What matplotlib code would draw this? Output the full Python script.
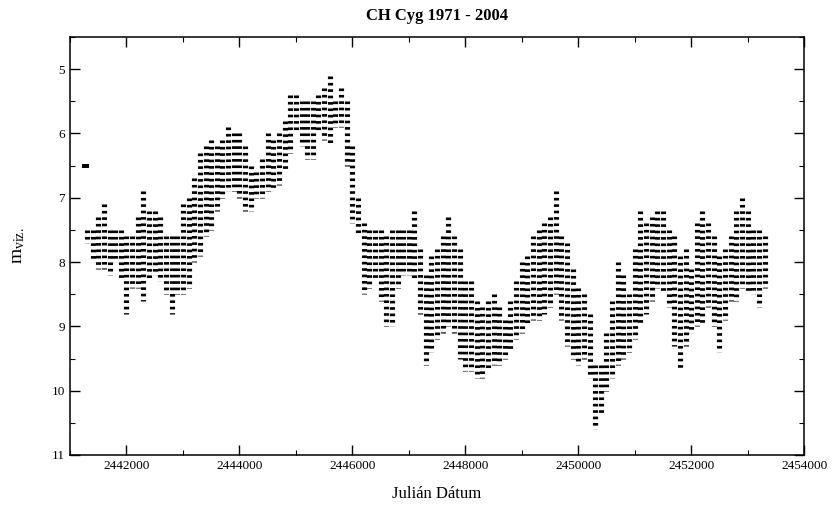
import matplotlib.pyplot as plt
from matplotlib.ticker import MultipleLocator, FuncFormatter

# Visual magnitude range per 100-day bin (bright edge, faint edge)
jd = [2441300, 2441400, 2441500, 2441600, 2441700, 2441800, 2441900,
      2442000, 2442100, 2442200, 2442300, 2442400, 2442500, 2442600, 2442700, 2442800, 2442900,
      2443000, 2443100, 2443200, 2443300, 2443400, 2443500, 2443600, 2443700, 2443800, 2443900,
      2444000, 2444100, 2444200, 2444300, 2444400, 2444500, 2444600, 2444700, 2444800, 2444900,
      2445000, 2445100, 2445200, 2445300, 2445400, 2445500, 2445600, 2445700, 2445800, 2445900,
      2446000, 2446100, 2446200, 2446300, 2446400, 2446500, 2446600, 2446700, 2446800, 2446900,
      2447000, 2447100, 2447200, 2447300, 2447400, 2447500, 2447600, 2447700, 2447800, 2447900,
      2448000, 2448100, 2448200, 2448300, 2448400, 2448500, 2448600, 2448700, 2448800, 2448900,
      2449000, 2449100, 2449200, 2449300, 2449400, 2449500, 2449600, 2449700, 2449800, 2449900,
      2450000, 2450100, 2450200, 2450300, 2450400, 2450500, 2450600, 2450700, 2450800, 2450900,
      2451000, 2451100, 2451200, 2451300, 2451400, 2451500, 2451600, 2451700, 2451800, 2451900,
      2452000, 2452100, 2452200, 2452300, 2452400, 2452500, 2452600, 2452700, 2452800, 2452900,
      2453000, 2453100, 2453200, 2453300]
mag_bright = [7.5, 7.5, 7.3, 7.1, 7.5, 7.5, 7.5,
              7.6, 7.6, 7.3, 6.9, 7.2, 7.2, 7.3, 7.6, 7.6, 7.6,
              7.1, 7.0, 6.7, 6.3, 6.2, 6.1, 6.2, 6.1, 5.9, 6.0,
              6.0, 6.2, 6.5, 6.6, 6.4, 6.0, 6.1, 6.0, 5.8, 5.4,
              5.4, 5.5, 5.5, 5.5, 5.4, 5.3, 5.1, 5.5, 5.3, 5.5,
              6.2, 7.0, 7.4, 7.5, 7.5, 7.5, 7.6, 7.5, 7.5, 7.5,
              7.5, 7.2, 7.8, 8.2, 7.9, 7.8, 7.6, 7.3, 7.6, 7.8,
              8.3, 8.3, 8.6, 8.7, 8.6, 8.5, 8.7, 8.9, 8.6, 8.3,
              8.0, 7.9, 7.6, 7.5, 7.4, 7.3, 6.9, 7.6, 7.7, 8.1,
              8.4, 8.5, 8.8, 9.6, 9.6, 9.1, 8.6, 8.0, 8.2, 8.5,
              7.8, 7.2, 7.4, 7.3, 7.2, 7.2, 7.5, 7.6, 7.9, 7.8,
              8.1, 7.4, 7.2, 7.4, 7.6, 7.9, 7.8, 7.6, 7.2, 7.0,
              7.2, 7.5, 7.5, 7.6]
mag_faint = [7.7, 8.0, 8.1, 8.1, 8.2, 8.0, 8.3,
             8.8, 8.4, 8.4, 8.6, 8.3, 8.2, 8.3, 8.5, 8.8, 8.5,
             8.5, 8.4, 8.0, 7.9, 7.6, 7.5, 7.2, 7.0, 6.9, 6.9,
             7.0, 7.2, 7.2, 7.0, 7.0, 6.9, 6.9, 6.8, 6.6, 6.3,
             6.0, 6.2, 6.4, 6.4, 6.0, 6.1, 6.2, 5.9, 5.9, 6.5,
             7.4, 7.6, 8.5, 8.4, 8.3, 8.6, 9.0, 9.0, 8.4, 8.2,
             8.2, 8.3, 8.8, 9.6, 9.4, 9.2, 9.1, 9.0, 9.1, 9.5,
             9.7, 9.7, 9.8, 9.8, 9.7, 9.6, 9.6, 9.5, 9.4, 9.2,
             9.1, 9.0, 8.9, 8.9, 8.8, 8.7, 8.5, 8.9, 9.3, 9.5,
             9.6, 9.5, 9.8, 10.6, 10.4, 10.0, 9.8, 9.6, 9.5, 9.4,
             9.2, 9.0, 8.8, 8.6, 8.4, 8.5, 8.7, 9.3, 9.7, 9.3,
             9.1, 9.0, 9.0, 8.7, 9.0, 9.4, 8.9, 8.6, 8.6, 8.4,
             8.5, 8.5, 8.7, 8.4]

# isolated estimates outside the bands
out_jd = [2441250, 2441310]
out_mag = [6.5, 6.5]

plt.rcParams['font.family'] = ['Liberation Serif', 'DejaVu Serif']
plt.rcParams['mathtext.fontset'] = 'custom'
plt.rcParams['mathtext.rm'] = 'Liberation Serif'
plt.rcParams['lines.scale_dashes'] = False

fig = plt.figure(figsize=(8.39, 5.14), dpi=100)
ax = fig.add_axes([0.0834, 0.1148, 0.875, 0.8132])

# dotted columns: one dot per 0.1 mag step
ax.vlines(jd, mag_bright, mag_faint, colors='black', linewidth=3.7,
          linestyles=[(0, (1.9, 2.7))], capstyle='butt')
ax.scatter(out_jd, out_mag, s=6, color='black', marker='s', linewidths=0)

ax.set_xlim(2441000, 2454000)
ax.set_ylim(11, 4.5)

ax.xaxis.set_major_locator(MultipleLocator(2000))
ax.xaxis.set_minor_locator(MultipleLocator(1000))
ax.yaxis.set_major_locator(MultipleLocator(1))
ax.yaxis.set_minor_locator(MultipleLocator(0.5))
ax.xaxis.set_major_formatter(FuncFormatter(lambda v, p: '%d' % v))
ax.yaxis.set_major_formatter(FuncFormatter(lambda v, p: '%d' % v))

ax.tick_params(which='both', direction='in', top=True, right=True, labelsize=9.5)
ax.tick_params(which='major', length=7, width=1)
ax.tick_params(which='minor', length=3.5, width=0.8)
for s in ax.spines.values():
    s.set_linewidth(1.1)

ax.set_title('CH Cyg 1971 - 2004', fontsize=12, fontweight='bold', pad=12)
ax.set_xlabel('Julián Dátum', fontsize=12, labelpad=10)
ax.set_ylabel(r'$\mathrm{m_{viz.}}$', fontsize=14, labelpad=18)

fig.savefig('out.png', dpi=100)
